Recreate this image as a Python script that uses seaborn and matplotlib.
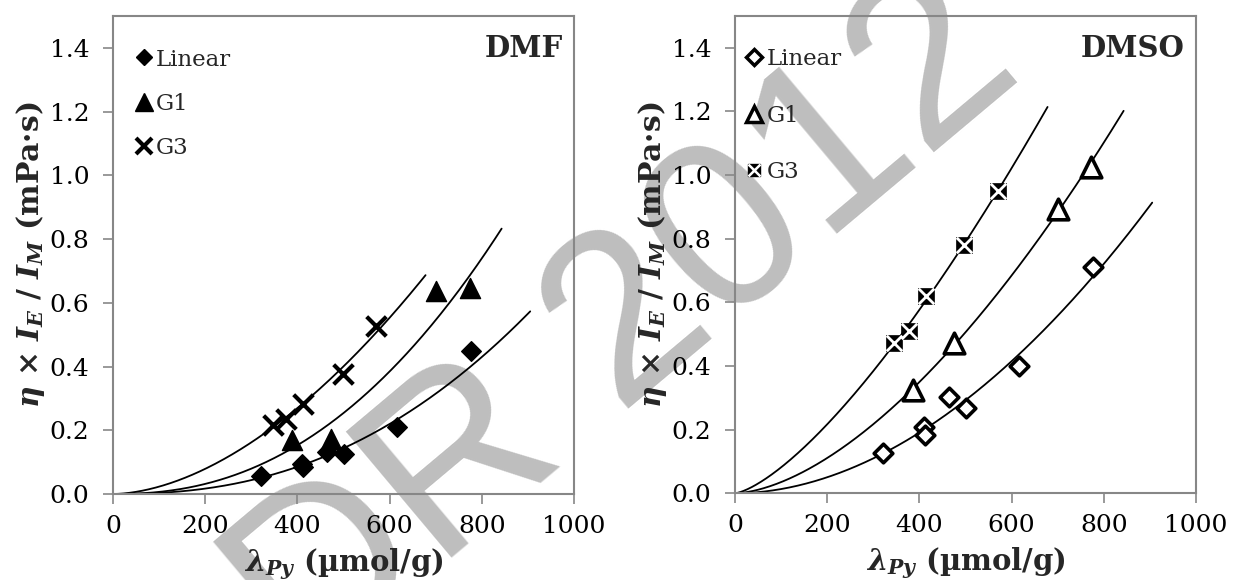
import numpy as np
import matplotlib
matplotlib.use("Agg")
import matplotlib.pyplot as plt
import seaborn as sns
from matplotlib.lines import Line2D
from matplotlib.legend_handler import HandlerTuple

# ---------------- data ----------------
series_names = ["Linear", "G1", "G3"]
panel_titles = ["DMF", "DMSO"]

dmf_linear_x = [322, 411, 413, 464, 500, 615, 776]
dmf_linear_y = [0.055, 0.095, 0.085, 0.132, 0.125, 0.210, 0.450]
dmf_g1_x = [388, 472, 700, 775]
dmf_g1_y = [0.168, 0.172, 0.638, 0.648]
dmf_g3_x = [346, 375, 413, 498, 570]
dmf_g3_y = [0.216, 0.236, 0.283, 0.377, 0.528]

dmso_linear_x = [322, 411, 413, 464, 500, 615, 776]
dmso_linear_y = [0.126, 0.209, 0.183, 0.303, 0.269, 0.400, 0.712]
dmso_g1_x = [386, 474, 700, 772]
dmso_g1_y = [0.325, 0.471, 0.892, 1.024]
dmso_g3_x = [344, 377, 414, 496, 570]
dmso_g3_y = [0.473, 0.510, 0.621, 0.780, 0.948]

# x extent of the power-law trendlines (Linear, G1, G3)
fit_end_x = [905, 843, 678]

x_ticks = [0, 200, 400, 600, 800, 1000]
y_ticks = [0.0, 0.2, 0.4, 0.6, 0.8, 1.0, 1.2, 1.4]
watermark = "DR 2012"

# ---------------- style ----------------
sns.set_style("white")
plt.rcParams["font.family"] = ["DejaVu Serif", "DejaVu Sans"]
plt.rcParams["mathtext.fontset"] = "custom"
plt.rcParams["mathtext.it"] = "DejaVu Serif:italic:bold"
plt.rcParams["mathtext.rm"] = "DejaVu Serif:bold"
plt.rcParams["mathtext.bf"] = "DejaVu Serif:bold"

GRAY = "#878787"

fig = plt.figure(figsize=(12.33, 5.80), dpi=100)
fig.patch.set_facecolor("white")

# watermark behind everything
fig.text(626 / 1233, 1 - 330 / 580, watermark, rotation=40, fontsize=172,
         color="#bebebe", ha="center", va="center",
         family="Liberation Sans", zorder=-5)

ax_l = fig.add_axes([113 / 1233, 86 / 580, 461 / 1233, 478 / 580])
ax_r = fig.add_axes([735 / 1233, 86.7 / 580, 461 / 1233, 477.6 / 580])


def power_fit(xs, ys, xend):
    b, ln_a = np.polyfit(np.log(xs), np.log(ys), 1)
    xx = np.linspace(0, xend, 300)
    return xx, np.exp(ln_a) * xx ** b


panels = [
    (ax_l, [(dmf_linear_x, dmf_linear_y), (dmf_g1_x, dmf_g1_y), (dmf_g3_x, dmf_g3_y)]),
    (ax_r, [(dmso_linear_x, dmso_linear_y), (dmso_g1_x, dmso_g1_y), (dmso_g3_x, dmso_g3_y)]),
]

for pi, (ax, data) in enumerate(panels):
    ax.set_facecolor("none")
    for (xs, ys), xend in zip(data, fit_end_x):
        xx, yy = power_fit(xs, ys, xend)
        sns.lineplot(x=xx, y=yy, ax=ax, color="black", lw=1.3, sort=False,
                     zorder=2)
    (lx, ly), (g1x, g1y), (g3x, g3y) = data
    if pi == 0:
        sns.scatterplot(x=lx, y=ly, ax=ax, marker="D", s=100, color="black",
                        edgecolor="black", linewidth=1, zorder=3)
        sns.scatterplot(x=g1x, y=g1y, ax=ax, marker="^", s=210, color="black",
                        edgecolor="black", linewidth=1, zorder=3)
        sns.scatterplot(x=g3x, y=g3y, ax=ax, marker="x", s=200, color="black",
                        linewidth=3, zorder=3)
        handles = [
            Line2D([], [], marker="D", ls="none", color="black", ms=8.5),
            Line2D([], [], marker="^", ls="none", color="black", ms=12.5),
            Line2D([], [], marker="x", ls="none", color="black", ms=11, mew=3),
        ]
        ax.legend(handles, series_names, loc="upper left",
                  bbox_to_anchor=(0.0465, 0.932), frameon=False,
                  fontsize=16.5, handlelength=0.8, handletextpad=0.15,
                  labelspacing=0.98, borderaxespad=0, borderpad=0)
    else:
        sns.scatterplot(x=lx, y=ly, ax=ax, marker="D", s=90, color="white",
                        edgecolor="black", linewidth=2.6, zorder=3)
        sns.scatterplot(x=g1x, y=g1y, ax=ax, marker="^", s=220, color="white",
                        edgecolor="black", linewidth=2.6, zorder=3)
        sns.scatterplot(x=g3x, y=g3y, ax=ax, marker="s", s=125, color="black",
                        edgecolor="black", linewidth=0.5, zorder=3)
        sns.scatterplot(x=g3x, y=g3y, ax=ax, marker="x", s=125, color="white",
                        linewidth=2, zorder=4)
        handles = [
            Line2D([], [], marker="D", ls="none", mfc="white", mec="black",
                   ms=8, mew=2.5),
            Line2D([], [], marker="^", ls="none", mfc="white", mec="black",
                   ms=11.5, mew=2.5),
            (Line2D([], [], marker="s", ls="none", color="black", ms=9),
             Line2D([], [], marker="x", ls="none", color="white", ms=9, mew=1.8)),
        ]
        ax.legend(handles, series_names, loc="upper left",
                  bbox_to_anchor=(0.022, 0.932), frameon=False,
                  fontsize=16.5, handlelength=0.8, handletextpad=0.15,
                  labelspacing=1.5, borderaxespad=0, borderpad=0,
                  handler_map={tuple: HandlerTuple(ndivide=1)})

    ax.text(0.976, 0.962, panel_titles[pi], transform=ax.transAxes,
            ha="right", va="top", fontsize=21, fontweight="bold")

    ax.set_xlim(0, 1000)
    ax.set_ylim(0, 1.5)
    ax.set_xticks(x_ticks)
    ax.set_yticks(y_ticks)
    ax.set_xticklabels([str(t) for t in x_ticks])
    ax.set_yticklabels([f"{t:.1f}" for t in y_ticks])
    ax.tick_params(axis="both", which="major", direction="out", length=7,
                   width=1.2, color=GRAY, labelsize=18, labelcolor="black",
                   left=True, bottom=True)
    ax.tick_params(axis="x", pad=8)
    ax.tick_params(axis="y", pad=10)
    for sp in ax.spines.values():
        sp.set_visible(True)
        sp.set_color(GRAY)
        sp.set_linewidth(1.5)
    ax.set_xlabel(r"$\lambda_{Py}$ (µmol/g)", fontsize=21, fontweight="bold",
                  labelpad=6)
    ax.set_ylabel(r"$\eta$ × $I_E$ / $I_M$ (mPa·s)", fontsize=21.5,
                  fontweight="bold", labelpad=2)

fig.savefig("out.png", dpi=100, facecolor="white")
